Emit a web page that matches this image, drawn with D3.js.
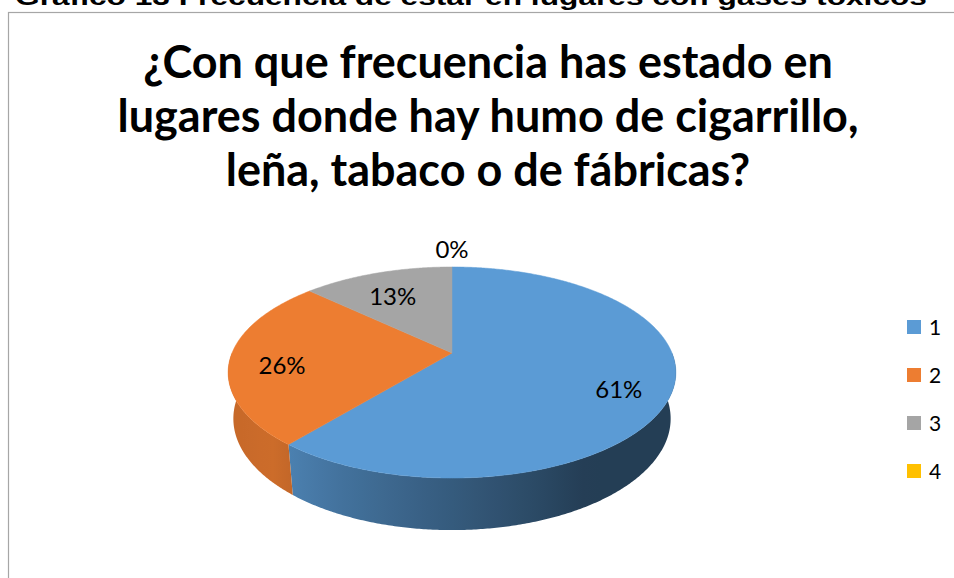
<!DOCTYPE html>
<html>
<head>
<meta charset="utf-8">
<script src="https://cdn.jsdelivr.net/npm/d3@7"></script>
<style>
  html, body { margin: 0; padding: 0; background: #ffffff; overflow: hidden; }
  svg { display: block; }
</style>
</head>
<body>
<svg id="chart" width="954" height="578"></svg>
<script>
// ---- chart content ----
const caption = "Gráfico 13 Frecuencia de estar en lugares con gases tóxicos";
const titleLines = [
  "¿Con que frecuencia has estado en",
  "lugares donde hay humo de cigarrillo,",
  "leña, tabaco o de fábricas?"
];
const categories = ["1", "2", "3", "4"];
const percents = [61, 26, 13, 0];
const palette = ["#5b9bd5", "#ed7d31", "#a5a5a5", "#ffc000"];

// ---- setup ----
const svg = d3.select("#chart");
const defs = svg.append("defs");

const color = d3.scaleOrdinal().domain(categories).range(palette);

// Figure caption above the chart frame (partly outside the page top)
svg.append("text")
  .attr("x", 15).attr("y", 5)
  .attr("font-family", "'Liberation Sans', Arial, sans-serif")
  .attr("font-weight", "bold")
  .attr("font-size", 24)
  .attr("textLength", 912)
  .attr("lengthAdjust", "spacingAndGlyphs")
  .attr("fill", "#000")
  .text(caption);

// Chart frame
svg.append("rect")
  .attr("x", 8.5).attr("y", 12.5)
  .attr("width", 1000).attr("height", 1000)
  .attr("fill", "#fff")
  .attr("stroke", "#a6a6a6")
  .attr("stroke-width", 1.2);

// Title, sized so the widest line spans the intended width
const title = svg.append("g")
  .attr("font-family", "Lato, 'Open Sans', sans-serif")
  .attr("font-weight", "bold")
  .attr("fill", "#000")
  .attr("text-anchor", "middle");
const probe = title.append("text").attr("font-size", 40).text(titleLines[1]);
const probeW = probe.node().getComputedTextLength();
probe.remove();
const titleSize = 40 * 741 / probeW;
const titleBaselines = [78, 132, 186];
titleLines.forEach((line, i) => {
  title.append("text")
    .attr("x", 488)
    .attr("y", titleBaselines[i])
    .attr("font-size", titleSize)
    .text(line);
});

// ---- 3D pie ----
const cx = 452, cy = 353;        // projected pie centre
const kR = 220;                   // projected radius at centre depth
const tilt = 27.6 * Math.PI / 180;
const sinA = Math.sin(tilt), cosA = Math.cos(tilt);
const persp = 0.2086;             // radius / camera distance
const depth = 0.2385;             // slab thickness / radius
const deg = Math.PI / 180;

// Project a point given by angle (clockwise from 12 o'clock), radial fraction and depth
function project(theta, f, y) {
  const X = f * Math.sin(theta);
  const Z = -f * Math.cos(theta);
  const D = 1 - Z * cosA * persp + y * sinA * persp;
  return {
    x: cx + kR * X / D,
    y: cy + kR * (Z * sinA + y * cosA) / D,
    d: D
  };
}

const pie = d3.pie().sort(null).value(d => d.value);
const arcs = pie(categories.map((c, i) => ({ cat: c, value: percents[i] })));

// Brightness of the outer wall depending on which way it faces
function wallShade(theta) {
  const a = theta / deg;
  if (a < 225) return Math.max(0.4, 0.86 - 0.0061 * (225 - a));
  return 0.86 - 0.0011 * (a - 225);
}
function shaded(base, k) {
  const c = d3.rgb(base);
  return d3.rgb(c.r * k, c.g * k, c.b * k).formatHex();
}

const pathOf = pts => "M" + pts.map(q => q.x.toFixed(2) + "," + q.y.toFixed(2)).join("L") + "Z";
const step = 0.5 * deg;

// Outer wall: only the front half can be seen; shade it with a horizontal gradient
const frontFrom = 90 * deg, frontTo = 270 * deg;
const wall = svg.append("g");
arcs.forEach((a, i) => {
  const t0 = Math.max(a.startAngle, frontFrom), t1 = Math.min(a.endAngle, frontTo);
  if (t1 <= t0) return;
  const gid = "wall-" + i;
  const left = project(frontTo, 1, 0).x, right = project(frontFrom, 1, 0).x;
  const grad = defs.append("linearGradient")
    .attr("id", gid)
    .attr("gradientUnits", "userSpaceOnUse")
    .attr("x1", left).attr("x2", right).attr("y1", 0).attr("y2", 0);
  const stops = d3.range(frontTo, frontFrom - 1e-9, -5 * deg).map(t => ({
    off: (project(t, 1, 0).x - left) / (right - left),
    col: shaded(color(a.data.cat), wallShade(t))
  }));
  grad.selectAll("stop").data(stops).join("stop")
    .attr("offset", s => Math.min(1, Math.max(0, s.off)))
    .attr("stop-color", s => s.col);

  const n = Math.max(2, Math.ceil((t1 - t0) / step));
  const topRim = d3.range(n + 1).map(k => project(t0 + (t1 - t0) * k / n, 1, 0));
  const botRim = d3.range(n, -1, -1).map(k => project(t0 + (t1 - t0) * k / n, 1, depth));
  wall.append("path")
    .attr("d", pathOf(topRim.concat(botRim)))
    .attr("fill", "url(#" + gid + ")");
});

// Top faces
function topPath(a) {
  const n = Math.max(2, Math.ceil((a.endAngle - a.startAngle) / step));
  const pts = [{ x: cx, y: cy }];
  for (let k = 0; k <= n; k++) {
    pts.push(project(a.startAngle + (a.endAngle - a.startAngle) * k / n, 1, 0));
  }
  return pathOf(pts);
}
svg.append("g").selectAll("path")
  .data(arcs.filter(a => a.endAngle > a.startAngle))
  .join("path")
  .attr("d", topPath)
  .attr("fill", a => color(a.data.cat))
  .attr("stroke", a => color(a.data.cat))
  .attr("stroke-width", 0.5);

// Data labels
svg.append("g")
  .attr("font-family", "Lato, 'Open Sans', sans-serif")
  .attr("font-size", 24)
  .attr("fill", "#000")
  .attr("text-anchor", "middle")
  .selectAll("text")
  .data(arcs)
  .join("text")
  .each(function (a) {
    const mid = (a.startAngle + a.endAngle) / 2;
    const p = a.data.value > 0 ? project(mid, 0.77, 0.04) : project(mid, 1.25, 0);
    d3.select(this).attr("x", p.x).attr("y", p.y).attr("dy", "0.36em");
  })
  .text(a => a.data.value + "%");

// Legend
const legend = svg.append("g")
  .attr("font-family", "Lato, 'Open Sans', sans-serif")
  .attr("font-size", 21)
  .attr("fill", "#000");
const ly = d3.scalePoint().domain(categories).range([327, 471]);
categories.forEach(c => {
  legend.append("rect")
    .attr("x", 907).attr("y", ly(c) - 7)
    .attr("width", 14).attr("height", 14)
    .attr("fill", color(c));
  legend.append("text")
    .attr("x", 929).attr("y", ly(c))
    .attr("dy", "0.36em")
    .text(c);
});
</script>
</body>
</html>
